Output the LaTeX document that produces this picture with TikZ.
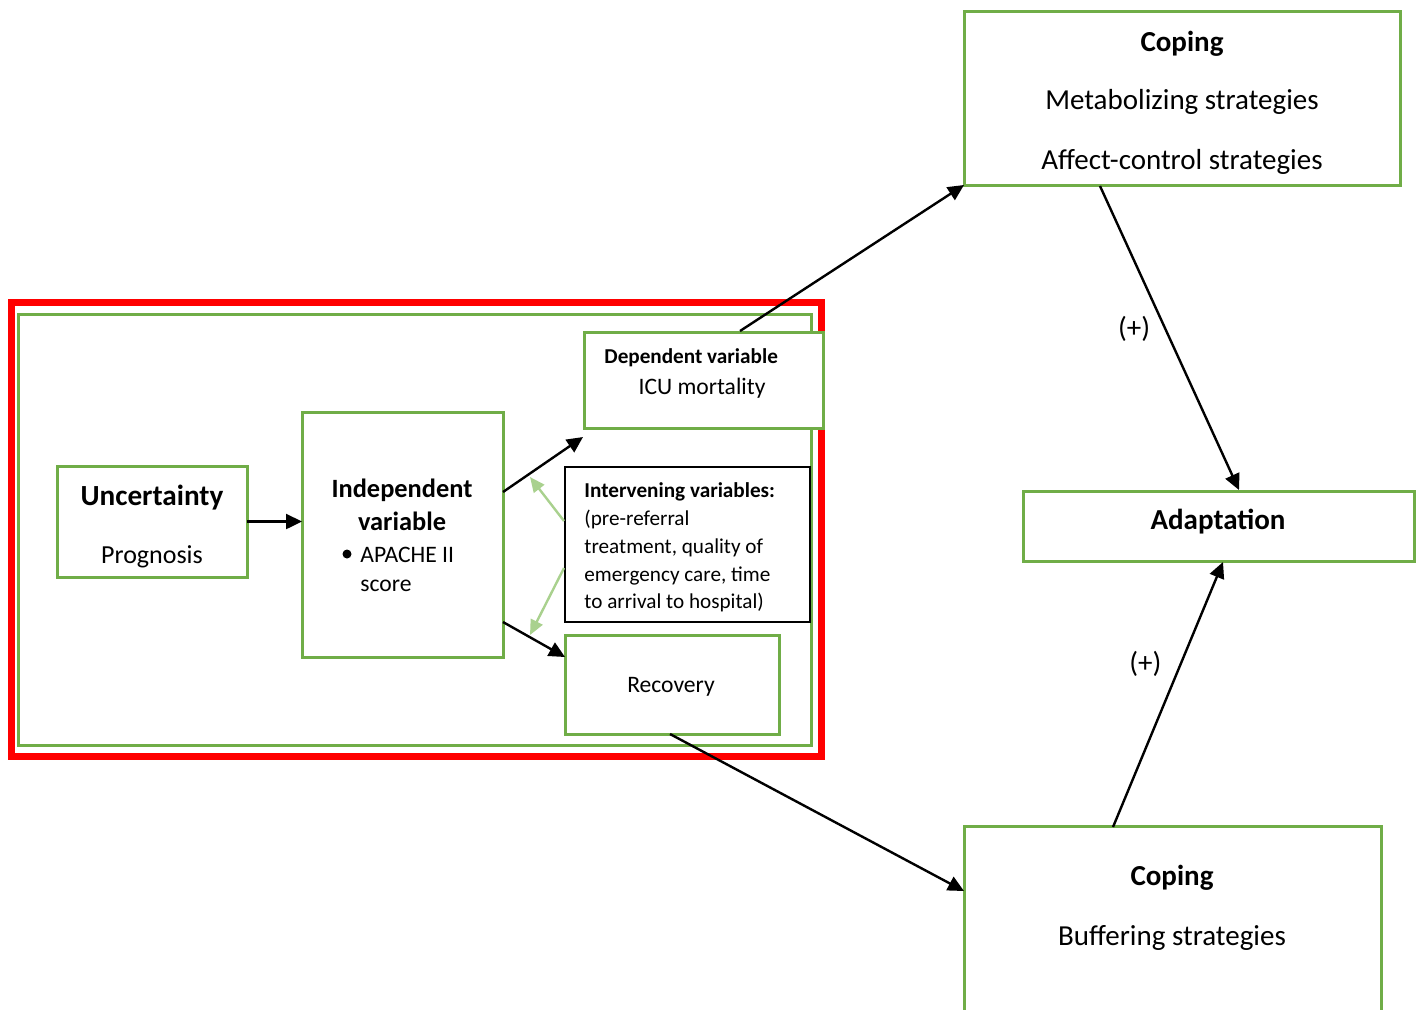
\documentclass[tikz,border=0pt]{standalone}
\usepackage{fontspec}
\setmainfont{Carlito}
\usetikzlibrary{arrows.meta}
\definecolor{grn}{HTML}{70AD47}
\definecolor{lgrn}{HTML}{A9D18E}
\begin{document}
\begin{tikzpicture}[x=0.5pt,y=-0.5pt,
  gbox/.style={draw=grn,line width=1.5pt,fill=white,inner sep=0pt,outer sep=0pt},
  kbox/.style={draw=black,line width=0.8pt,fill=white,inner sep=0pt,outer sep=0pt},
  txt/.style={inner sep=0pt,anchor=base},
  txtw/.style={inner sep=0pt,anchor=base west},
  arr/.style={draw=black,line width=1.2pt,-{Triangle[length=8pt,width=7.5pt]}},
  garr/.style={draw=lgrn,line width=1.2pt,-{Triangle[length=7.5pt,width=6.5pt]}},
  big/.style={font=\fontsize{14.5}{17}\selectfont},
  mid/.style={font=\fontsize{13}{15}\selectfont},
  sml/.style={font=\fontsize{11.8}{14}\selectfont},
  tiny/.style={font=\fontsize{10.6}{13}\selectfont}]
\useasboundingbox (0,0) rectangle (1423,1009);

% frames
\node[draw=red,line width=3.5pt,inner sep=0pt,minimum width=405pt,minimum height=227pt] (redframe) at (416,529) {};
\node[draw=grn,line width=1.5pt,inner sep=0pt,minimum width=396.5pt,minimum height=215.5pt] (grnframe) at (414.5,529.5) {};

% boxes
\node[gbox,minimum width=95pt,minimum height=55.5pt] (unc) at (152,521.5) {};
\node[gbox,minimum width=100.5pt,minimum height=122.5pt] (ind) at (402.5,534.5) {};
\node[gbox,minimum width=119.5pt,minimum height=48pt] (dep) at (703.5,380) {};
\node[kbox,minimum width=122.5pt,minimum height=77.5pt] (intv) at (687.5,544.5) {};
\node[gbox,minimum width=107pt,minimum height=49.5pt] (rec) at (672,684.5) {};
\node[gbox,minimum width=218pt,minimum height=87pt] (copT) at (1182,98) {};
\node[gbox,minimum width=195.5pt,minimum height=35pt] (adp) at (1218.5,526) {};
\node[gbox,minimum width=208.5pt,minimum height=117pt] (copB) at (1172.5,943) {};

% texts
\node[txt,font=\bfseries\fontsize{14.5}{17}\selectfont] (tCopT) at (1182,51) {Coping};
\node[txt,big] (tMet) at (1182,109) {Metabolizing strategies};
\node[txt,big] (tAff) at (1182,169) {Affect-control strategies};

\node[txt,font=\bfseries\fontsize{14.5}{17}\selectfont] (tAdp) at (1218,529) {Adaptation};

\node[txt,font=\bfseries\fontsize{14.5}{17}\selectfont] (tCopB) at (1172,885) {Coping};
\node[txt,big] (tBuf) at (1172,945) {Buffering strategies};

\node[txt,font=\bfseries\fontsize{14.6}{17}\selectfont] (tUnc) at (152,505) {Uncertainty};
\node[txt,mid] (tPro) at (152,563) {Prognosis};

\node[txt,font=\bfseries\fontsize{13.2}{15}\selectfont] (tInd1) at (402,497) {Independent};
\node[txt,font=\bfseries\fontsize{13.2}{15}\selectfont] (tInd2) at (402,530) {variable};
\node[fill=black,circle,inner sep=0pt,minimum size=4.5pt] (bul) at (347,554) {};
\node[txtw,sml] (tApa) at (360,562) {APACHE II};
\node[txtw,sml] (tSco) at (360,591) {score};

\node[txtw,font=\bfseries\fontsize{10.6}{13}\selectfont] (tDep) at (604,363) {Dependent variable};
\node[txt,sml] (tIcu) at (702,394) {ICU mortality};

\node[txtw,font=\bfseries\fontsize{10.6}{13}\selectfont] (tI1) at (584,497) {Intervening variables:};
\node[txtw,tiny] (tI2) at (584,525) {(pre-referral};
\node[txtw,tiny] (tI3) at (584,553) {treatment, quality of};
\node[txtw,tiny] (tI4) at (584,581) {emergency care, time};
\node[txtw,tiny] (tI5) at (584,608) {to arrival to hospital)};

\node[txt,sml] (tRec) at (671,692) {Recovery};

% connector end points
\coordinate (indA) at (503,492);
\coordinate (depA) at (583,437);
\coordinate (indB) at (503,622);
\coordinate (recA) at (565,657);
\coordinate (intvA) at (564,521);
\coordinate (intvB) at (564,568);
\coordinate (gA) at (530,477);
\coordinate (gB) at (530,635);
\coordinate (depT) at (740,331);
\coordinate (recB) at (670,734);
\coordinate (copTB) at (1100,186);
\coordinate (adpT) at (1239,490);
\coordinate (copBT) at (1113,827);
\coordinate (adpB) at (1223,562);
\coordinate (copBL) at (964,891);

% connectors
\draw[arr] (unc.east) -- (unc.east -| ind.west);
\draw[arr] (indA) -- (depA);
\draw[arr] (indB) -- (recA);
\draw[garr] (intvA) -- (gA);
\draw[garr] (intvB) -- (gB);
\draw[arr] (depT) -- (copT.south west);
\draw[arr] (recB) -- (copBL);
\draw[arr] (copTB) -- (adpT) node[pos=0.47,left=7pt,inner sep=0pt,font=\fontsize{14.5}{17}\selectfont] (p1) {(+)};
\draw[arr] (copBT) -- (adpB) node[pos=0.615,left=9pt,inner sep=0pt,font=\fontsize{14.5}{17}\selectfont] (p2) {(+)};
\end{tikzpicture}
\end{document}
